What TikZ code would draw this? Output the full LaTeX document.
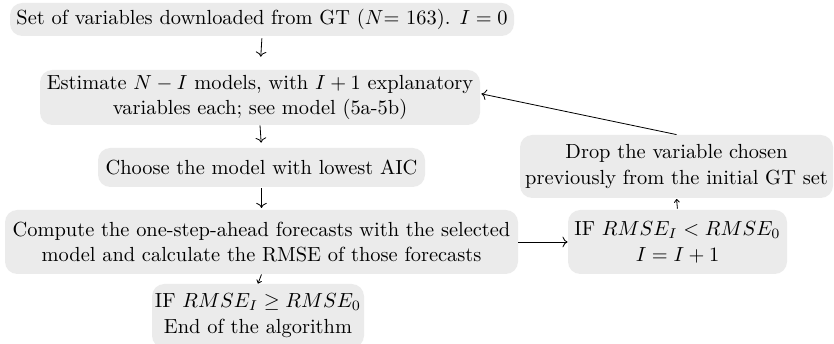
\documentclass[tikz,border=0pt]{standalone}
\usetikzlibrary{arrows.meta}
\begin{document}
\begin{tikzpicture}[x=0.49pt,y=-0.49pt,
  box/.style={fill=black!8, rounded corners=6pt, align=center, inner sep=0pt, font=\fontsize{10}{12.7}\selectfont},
  conn/.style={->, line width=0.4pt},
  small/.style={-{To[length=1.8pt,width=2.8pt]}, line width=0.4pt}]
\useasboundingbox (0,0) rectangle (834,344);
\node[box, minimum width=504*0.49pt, minimum height=33*0.49pt] (top) at (262,19.5) {Set of variables downloaded from GT ($N$= 163). $I=0$};
\node[box, minimum width=440*0.49pt, minimum height=55*0.49pt] (est) at (260,97.5) {Estimate $N-I$ models, with $I+1$ explanatory\\variables each; see model (5a-5b)};
\node[box, minimum width=327*0.49pt, minimum height=39*0.49pt] (choose) at (261.5,167.5) {Choose the model with lowest AIC};
\node[box, minimum width=513*0.49pt, minimum height=64*0.49pt] (comp) at (261.5,242) {Compute the one-step-ahead forecasts with the selected\\model and calculate the RMSE of those forecasts};
\node[box, minimum width=212*0.49pt, minimum height=64*0.49pt] (ifge) at (258,316) {IF $RMSE_I\geq RMSE_0$\\End of the algorithm};
\node[box, minimum width=313*0.49pt, minimum height=63*0.49pt] (drop) at (676.5,166.5) {Drop the variable chosen\\previously from the initial GT set};
\node[box, minimum width=219*0.49pt, minimum height=64*0.49pt] (iflt) at (677.5,242) {IF $RMSE_I<RMSE_0$\\$I=I+1$};
\draw[conn, shorten <=1pt, shorten >=6.3pt] (top.south) -- (est.north);
\draw[conn, shorten >=2.4pt] (est.south) -- (choose.north);
\draw[conn, shorten <=0.5pt, shorten >=0.8pt] (choose.south) -- (comp.north);
\draw[small, shorten <=0pt, shorten >=0pt] (comp.south) -- (ifge.north);
\draw[conn] (comp.east) -- (iflt.west);
\draw[small, shorten <=0.5pt, shorten >=0.3pt] (iflt.north) -- (drop.south);
\draw[conn, shorten >=0.5pt] (drop.north) -- ([yshift=1.9pt]est.east);
\end{tikzpicture}
\end{document}
